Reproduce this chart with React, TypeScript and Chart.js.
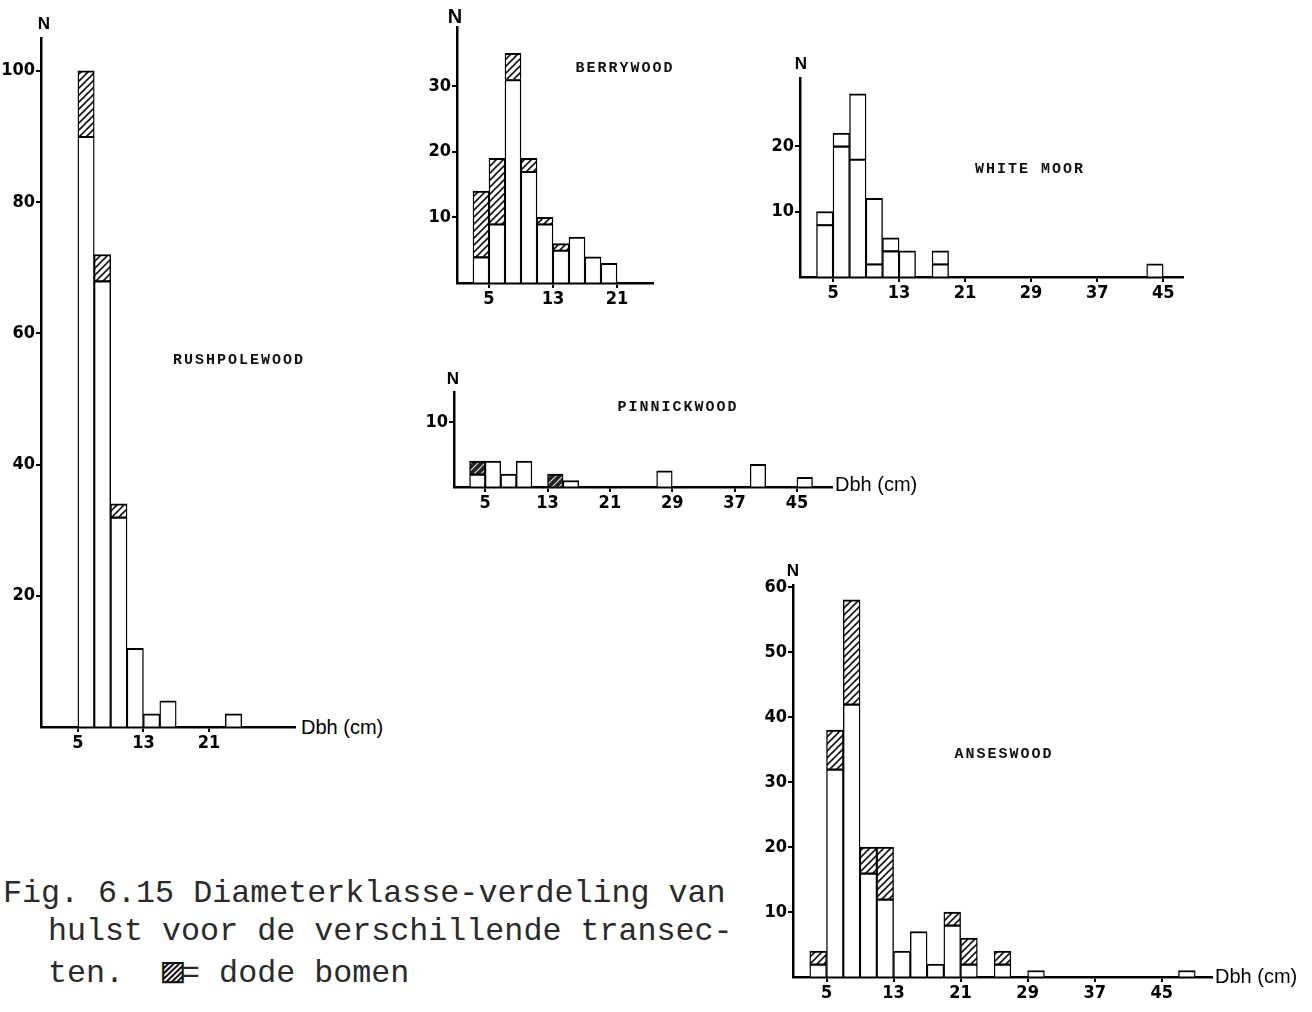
import React, { useEffect, useRef } from "react";
import { Chart, registerables } from "chart.js";
Chart.register(...registerables);

// ---------- DATA (bin centres in cm, 2 cm classes; counts N) ----------
// Rushpolewood
const rushBins = [6, 8, 10, 12, 14, 16, 24];
const rushLive = [90, 68, 32, 12, 2, 4, 2];
const rushDead = [10, 4, 2, 0, 0, 0, 0];
const rushXTicks = [5, 13, 21];
const rushYTicks = [20, 40, 60, 80, 100];

// Berrywood
const berryBins = [4, 6, 8, 10, 12, 14, 16, 18, 20];
const berryLive = [4, 9, 31, 17, 9, 5, 7, 4, 3];
const berryDead = [10, 10, 4, 2, 1, 1, 0, 0, 0];
const berryXTicks = [5, 13, 21];
const berryYTicks = [10, 20, 30];

// White Moor
const whiteBins = [4, 6, 8, 10, 12, 14, 18, 44];
const whiteLive = [8, 20, 18, 2, 4, 4, 2, 2];
const whiteUpper = [2, 2, 10, 10, 2, 0, 2, 0];
const whiteXTicks = [5, 13, 21, 29, 37, 45];
const whiteYTicks = [10, 20];

// Pinnickwood
const pinBins = [4, 6, 8, 10, 14, 16, 28, 40, 46];
const pinLive = [2, 4, 2, 4, 0, 1, 2.5, 3.5, 1.5];
const pinDead = [2, 0, 0, 0, 2, 0, 0, 0, 0];
const pinXTicks = [5, 13, 21, 29, 37, 45];
const pinYTicks = [10];

// Anseswood
const ansBins = [4, 6, 8, 10, 12, 14, 16, 18, 20, 22, 26, 30, 48];
const ansLive = [2, 32, 42, 16, 12, 4, 7, 2, 8, 2, 2, 1, 1];
const ansDead = [2, 6, 16, 4, 8, 0, 0, 0, 2, 4, 2, 0, 0];
const ansXTicks = [5, 13, 21, 29, 37, 45];
const ansYTicks = [10, 20, 30, 40, 50, 60];

// ---------- helpers ----------
function makeHatch(bg: string, fg: string, lw = 1.5) {
  const s = 7;
  const c = document.createElement("canvas");
  c.width = s;
  c.height = s;
  const g = c.getContext("2d")!;
  g.fillStyle = bg;
  g.fillRect(0, 0, s, s);
  g.strokeStyle = fg;
  g.lineWidth = lw;
  g.beginPath();
  g.moveTo(0, s);
  g.lineTo(s, 0);
  g.moveTo(-1, 1);
  g.lineTo(1, -1);
  g.moveTo(s - 1, s + 1);
  g.lineTo(s + 1, s - 1);
  g.stroke();
  return g.createPattern(c, "repeat")!;
}

type PanelCfg = {
  bins: number[];
  lower: number[];
  upper: number[];
  upperFill: "hatch" | "white" | "dark";
  xMin: number;
  xMax: number;
  yMax: number;
  xTicks: number[];
  yTicks: number[];
  plotLeft: number;
  plotTop: number;
  plotW: number;
  plotH: number;
};

const YW = 40;
const PAD_T = 12;
const PAD_R = 6;
const XH = 30;
const tickFont = {
  family: "'Liberation Sans Narrow', 'DejaVu Sans Condensed', 'Liberation Sans', sans-serif",
  size: 18,
  weight: "bold" as const,
};

function Panel({ cfg }: { cfg: PanelCfg }) {
  const ref = useRef<HTMLCanvasElement>(null);
  useEffect(() => {
    if (!ref.current) return;
    const upperBg =
      cfg.upperFill === "hatch"
        ? makeHatch("#ffffff", "#111111", 1.6)
        : cfg.upperFill === "dark"
        ? makeHatch("#222222", "#dddddd", 1.2)
        : "#ffffff";
    const bw = { top: 2, bottom: 0.8, left: 1.4, right: 1.4 };
    const chart = new Chart(ref.current, {
      type: "bar",
      data: {
        datasets: [
          {
            data: cfg.bins.map((b, i) => ({ x: b, y: cfg.lower[i] === 0 ? null : cfg.lower[i] })) as any,
            backgroundColor: "#ffffff",
            borderColor: "#000000",
            borderWidth: bw as any,
            borderSkipped: false,
            barPercentage: 1,
            categoryPercentage: 1,
          },
          {
            data: cfg.bins.map((b, i) => ({ x: b, y: cfg.upper[i] === 0 ? null : cfg.upper[i] })) as any,
            backgroundColor: upperBg as any,
            borderColor: "#000000",
            borderWidth: bw as any,
            borderSkipped: false,
            barPercentage: 1,
            categoryPercentage: 1,
          },
        ],
      },
      options: {
        animation: false,
        responsive: false,
        maintainAspectRatio: false,
        layout: { padding: { top: PAD_T, right: PAD_R, left: 0, bottom: 0 } },
        plugins: { legend: { display: false }, tooltip: { enabled: false }, title: { display: false } },
        scales: {
          x: {
            type: "linear",
            min: cfg.xMin,
            max: cfg.xMax,
            stacked: true,
            offset: false,
            afterBuildTicks: (s: any) => {
              s.ticks = cfg.xTicks.map((v) => ({ value: v }));
            },
            afterFit: (s: any) => {
              s.height = XH;
            },
            grid: {
              display: true,
              offset: false,
              drawOnChartArea: false,
              drawTicks: true,
              tickLength: 5,
              color: "#000",
              lineWidth: 2,
            },
            border: { display: true, color: "#000", width: 2.5 },
            ticks: { color: "#000", font: tickFont, padding: 1, autoSkip: false, maxRotation: 0 },
          },
          y: {
            type: "linear",
            min: 0,
            max: cfg.yMax,
            stacked: true,
            afterBuildTicks: (s: any) => {
              s.ticks = cfg.yTicks.map((v) => ({ value: v }));
            },
            afterFit: (s: any) => {
              s.width = YW;
            },
            grid: {
              display: true,
              drawOnChartArea: false,
              drawTicks: true,
              tickLength: 5,
              color: "#000",
              lineWidth: 2,
            },
            border: { display: true, color: "#000", width: 2.5 },
            ticks: { color: "#000", font: tickFont, padding: 1 },
          },
        },
      },
    } as any);
    return () => chart.destroy();
  }, [cfg]);
  const w = cfg.plotW + YW + PAD_R;
  const h = cfg.plotH + PAD_T + XH;
  return (
    <canvas
      ref={ref}
      width={w}
      height={h}
      style={{
        position: "absolute",
        left: cfg.plotLeft - YW,
        top: cfg.plotTop - PAD_T,
        width: w,
        height: h,
      }}
    />
  );
}

const panels: PanelCfg[] = [
  {
    bins: rushBins, lower: rushLive, upper: rushDead, upperFill: "hatch",
    xMin: 0.5, xMax: 31.5, yMax: 105, xTicks: rushXTicks, yTicks: rushYTicks,
    plotLeft: 41, plotTop: 38, plotW: 254, plotH: 689,
  },
  {
    bins: berryBins, lower: berryLive, upper: berryDead, upperFill: "hatch",
    xMin: 1, xMax: 25.5, yMax: 39, xTicks: berryXTicks, yTicks: berryYTicks,
    plotLeft: 457, plotTop: 27, plotW: 196, plotH: 256,
  },
  {
    bins: whiteBins, lower: whiteLive, upper: whiteUpper, upperFill: "white",
    xMin: 1, xMax: 47.4, yMax: 30.4, xTicks: whiteXTicks, yTicks: whiteYTicks,
    plotLeft: 800, plotTop: 78, plotW: 383, plotH: 199,
  },
  {
    bins: pinBins, lower: pinLive, upper: pinDead, upperFill: "dark",
    xMin: 1, xMax: 49.5, yMax: 14.6, xTicks: pinXTicks, yTicks: pinYTicks,
    plotLeft: 454, plotTop: 392, plotW: 378, plotH: 95,
  },
  {
    bins: ansBins, lower: ansLive, upper: ansDead, upperFill: "hatch",
    xMin: 1, xMax: 51, yMax: 60.3, xTicks: ansXTicks, yTicks: ansYTicks,
    plotLeft: 793, plotTop: 585, plotW: 419, plotH: 392,
  },
];

const titleStyle: React.CSSProperties = {
  fontFamily: "'Liberation Mono', 'DejaVu Sans Mono', monospace",
  fontWeight: "bold",
  fontSize: 15,
  letterSpacing: 2,
  color: "#111",
};
const nStyle: React.CSSProperties = {
  fontFamily: "'Liberation Sans', 'DejaVu Sans', sans-serif",
  fontWeight: "bold",
  fontSize: 17,
  color: "#000",
};
const dbhStyle: React.CSSProperties = {
  fontFamily: "'Liberation Sans', 'DejaVu Sans', sans-serif",
  fontSize: 20,
  color: "#000",
};
const capStyle: React.CSSProperties = {
  fontFamily: "'Liberation Mono', 'Courier New', monospace",
  fontSize: 31.7,
  lineHeight: "32px",
  color: "#2a2a2a",
  whiteSpace: "pre",
};

function Centered({ x, y, style, children }: { x: number; y: number; style: React.CSSProperties; children: React.ReactNode }) {
  return (
    <div style={{ position: "absolute", left: x, top: y, transform: "translate(-50%, -50%)", whiteSpace: "nowrap", ...style }}>
      {children}
    </div>
  );
}
function LeftMid({ x, y, style, children }: { x: number; y: number; style: React.CSSProperties; children: React.ReactNode }) {
  return (
    <div style={{ position: "absolute", left: x, top: y, transform: "translateY(-50%)", whiteSpace: "nowrap", ...style }}>
      {children}
    </div>
  );
}

export default function App() {
  return (
    <div style={{ position: "absolute", left: 0, top: 0, width: 1312, height: 1012, background: "#fff", overflow: "hidden" }}>
      {panels.map((p, i) => (
        <Panel key={i} cfg={p} />
      ))}
      {/* axis labels */}
      <Centered x={44} y={24} style={nStyle}>N</Centered>
      <Centered x={455} y={16} style={{ ...nStyle, fontSize: 20 }}>N</Centered>
      <Centered x={801} y={64} style={nStyle}>N</Centered>
      <Centered x={453} y={379} style={nStyle}>N</Centered>
      <Centered x={793} y={571} style={nStyle}>N</Centered>
      <LeftMid x={301} y={727} style={dbhStyle}>Dbh (cm)</LeftMid>
      <LeftMid x={835} y={484} style={dbhStyle}>Dbh (cm)</LeftMid>
      <LeftMid x={1215} y={976} style={dbhStyle}>Dbh (cm)</LeftMid>
      {/* panel titles */}
      <Centered x={239} y={360} style={titleStyle}>RUSHPOLEWOOD</Centered>
      <Centered x={625} y={68} style={titleStyle}>BERRYWOOD</Centered>
      <Centered x={1030} y={169} style={titleStyle}>WHITE MOOR</Centered>
      <Centered x={678} y={407} style={titleStyle}>PINNICKWOOD</Centered>
      <Centered x={1004} y={754} style={titleStyle}>ANSESWOOD</Centered>
      {/* caption */}
      <div style={{ position: "absolute", left: 3, top: 878, ...capStyle }}>Fig. 6.15 Diameterklasse-verdeling van</div>
      <div style={{ position: "absolute", left: 48, top: 916, ...capStyle }}>hulst voor de verschillende transec-</div>
      <div style={{ position: "absolute", left: 48, top: 954, ...capStyle }}>
        {"ten.  "}
        <span
          style={{
            display: "inline-block",
            width: 19,
            textAlign: "center",
            fontFamily: "'DejaVu Sans Mono', 'DejaVu Sans', monospace",
            fontSize: 36,
            color: "#111",
          }}
        >
          ▨
        </span>
        {"= dode bomen"}
      </div>
    </div>
  );
}
